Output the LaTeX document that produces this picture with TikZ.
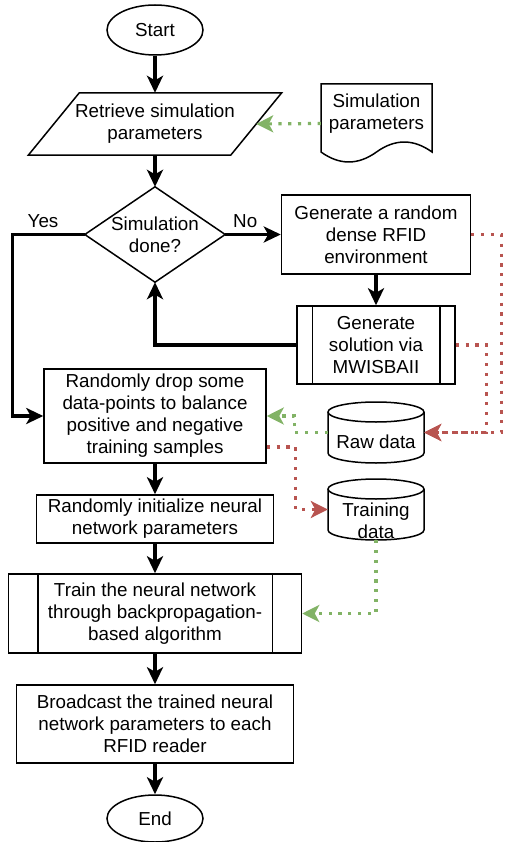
\documentclass[tikz,border=0pt]{standalone}
\usepackage{fontspec}
\setmainfont{Liberation Sans}
\usetikzlibrary{shapes.geometric,arrows.meta}
\definecolor{dgreen}{HTML}{82B366}
\definecolor{dred}{HTML}{B85450}
\tikzset{
  txt/.style={font=\fontsize{18.8}{22}\selectfont, align=center, inner sep=0pt},
  box/.style={txt, draw, line width=1.5pt},
  term/.style={box, ellipse},
  outline/.style={line width=1.5pt},
  flow/.style={line width=3.1pt, -{Stealth[length=17pt, width=16pt, inset=4.5pt]}},
  dotflow/.style={line width=3.2pt, dash pattern=on 3.2pt off 6.6pt, -{Stealth[length=17pt, width=17pt, inset=4.5pt]}},
  greenflow/.style={dotflow, dgreen},
  redflow/.style={dotflow, dred},
}
\begin{document}
\begin{tikzpicture}[x=1pt, y=-1pt]
    \useasboundingbox (0,0) rectangle (504,842);

    % main column
    \node[term, minimum width=96pt, minimum height=50pt] (start) at (155,30) {Start};

    \node[txt, minimum width=202pt, minimum height=62pt] (retrieve) at (155,124) {Retrieve simulation\\parameters};
    \draw[outline] ([xshift=25.5pt]retrieve.north west) -- ([xshift=25.5pt]retrieve.north east)
        -- ([xshift=-25.5pt]retrieve.south east) -- ([xshift=-25.5pt]retrieve.south west) -- cycle;

    \node[txt, minimum width=140pt, minimum height=95pt] (decide) at (155,234.5) {Simulation\\done?};
    \draw[outline] (decide.north) -- (decide.east) -- (decide.south) -- (decide.west) -- cycle;

    \node[box, minimum width=222pt, minimum height=94pt] (dropbal) at (155,416) {Randomly drop some\\data-points to balance\\positive and negative\\training samples};
    \node[box, minimum width=237pt, minimum height=48pt] (initnn) at (155,519) {Randomly initialize neural\\network parameters};
    \node[box, minimum width=293pt, minimum height=79pt] (trainnn) at (155,613.5) {Train the neural network\\through backpropagation-\\based algorithm};
    \draw[outline] ([xshift=30pt]trainnn.north west) -- ([xshift=30pt]trainnn.south west)
        ([xshift=-30pt]trainnn.north east) -- ([xshift=-30pt]trainnn.south east);
    \node[box, minimum width=277pt, minimum height=78pt] (bcast) at (155,724) {Broadcast the trained neural\\network parameters to each\\RFID reader};
    \node[term, minimum width=96pt, minimum height=47pt] (stop) at (155,818.5) {End};

    % right column
    \node[minimum width=111pt, minimum height=79pt, inner sep=0pt] (simdoc) at (376.5,123.5) {};
    \draw[outline] (321,152) -- (321,84) -- (432,84) -- (432,152)
        .. controls (413.5,138.7) and (395,138.7) .. (376.5,152)
        .. controls (358,165.3) and (339.5,165.3) .. (321,152) -- cycle;
    \node[txt] (simtxt) at (376.5,114) {Simulation\\parameters};

    \node[box, minimum width=189pt, minimum height=79pt] (genenv) at (376,234.5) {Generate a random\\dense RFID\\environment};
    \node[box, minimum width=158pt, minimum height=78pt] (gensol) at (376,345) {Generate\\solution via\\MWISBAII};
    \draw[outline] ([xshift=16pt]gensol.north west) -- ([xshift=16pt]gensol.south west)
        ([xshift=-16pt]gensol.north east) -- ([xshift=-16pt]gensol.south east);

    \node[minimum width=96pt, minimum height=61pt, inner sep=0pt] (rawdata) at (376,432.5) {};
    \draw[outline] (376,412) ellipse [x radius=48, y radius=10];
    \draw[outline] (328,412) -- (328,453) .. controls (328,458.5) and (349.5,463) .. (376,463)
        .. controls (402.5,463) and (424,458.5) .. (424,453) -- (424,412);
    \node[txt] (rawtxt) at (376,442) {Raw data};

    \node[minimum width=96pt, minimum height=61pt, inner sep=0pt] (traindata) at (376,509.5) {};
    \draw[outline] (376,489) ellipse [x radius=48, y radius=10];
    \draw[outline] (328,489) -- (328,530) .. controls (328,535.5) and (349.5,540) .. (376,540)
        .. controls (402.5,540) and (424,535.5) .. (424,530) -- (424,489);
    \node[txt] (traintxt) at (376,521) {Training\\data};

    % flow
    \draw[flow] (start) -- (retrieve);
    \draw[flow] (retrieve) -- (decide);
    \draw[flow] (decide.west) -- node[txt, above=5.5pt, pos=0.58] (yes) {Yes} ++(-72,0) |- (dropbal.west);
    \draw[flow] (decide.east) -- node[txt, above=5.5pt, pos=0.36] (no) {No} (genenv.west);
    \draw[flow] (genenv) -- (gensol);
    \draw[flow] (gensol.west) -| (decide.south);
    \draw[flow] (dropbal) -- (initnn);
    \draw[flow] (initnn) -- (trainnn);
    \draw[flow] (trainnn) -- (bcast);
    \draw[flow] (bcast) -- (stop);

    % data
    \draw[greenflow] (simdoc.west) -- (retrieve.east);
    \draw[redflow] (genenv.east) -- ++(30,0) |- (rawdata.east);
    \draw[redflow] (gensol.east) -- ++(31,0) |- (rawdata.east);
    \draw[greenflow] (rawdata.west) -- ++(-33,0) |- (dropbal.east);
    \draw[redflow] ([yshift=-31pt]dropbal.east) -- ++(29,0) |- (traindata.west);
    \draw[greenflow] (traindata.south) |- (trainnn.east);
\end{tikzpicture}
\end{document}
